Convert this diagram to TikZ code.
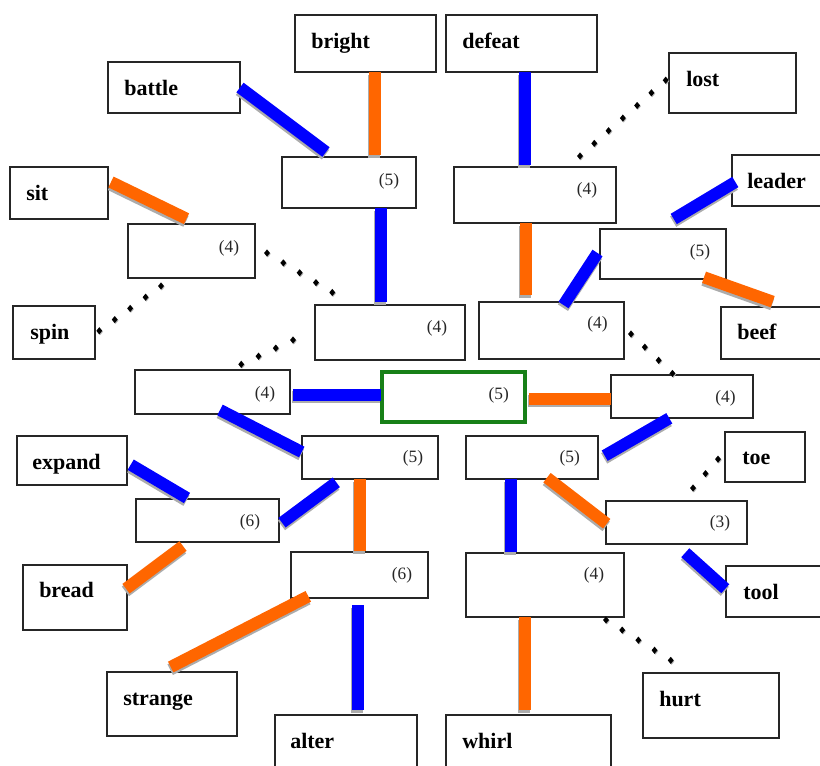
\documentclass[tikz,border=0pt]{standalone}
\usepackage{fontspec}
\setmainfont{Liberation Serif}
\usetikzlibrary{calc,fit,shadows,decorations.markings}
\definecolor{obar}{RGB}{255,102,0}
\definecolor{bbar}{RGB}{0,0,255}
\definecolor{gbox}{RGB}{24,128,24}
\newcommand\linkit[5]{\draw[#1] ($(#2)+(#3)$) -- ($(#4)+(#5)$);}
\newcommand\dotlink[4]{\path[dotline] ($(#1)+(#2)$) -- ($(#3)+(#4)$);}
\tikzset{
  box/.style={draw=black!85, line width=1pt, fill=white, inner sep=0pt,
    drop shadow={shadow xshift=0.8pt, shadow yshift=-0.8pt, fill=gray!50, opacity=1}},
  centerbox/.style={draw=gbox, line width=2.4pt, fill=white, inner sep=0pt},
  word/.style={font=\bfseries\fontsize{16.5}{18}\selectfont, inner sep=0pt, text=black},
  num/.style={font=\fontsize{13}{15}\selectfont, inner sep=0pt, text=black!85},
  barbase/.style={line width=9pt, preaction={draw=gray!65, line width=9pt, transform canvas={xshift=-0.4pt, yshift=-2pt}}},
  obar/.style={barbase, draw=obar},
  bbar/.style={barbase, draw=bbar},
  dotline/.style={postaction={decorate}, decoration={markings,
    mark=between positions 0 and 1 step 14.3pt with {\pgftransformresetnontranslations
      \fill[gray!60] (0.6pt,2.1pt) -- (2.8pt,-0.6pt) -- (0.6pt,-3.3pt) -- (-1.6pt,-0.6pt) -- cycle;
      \fill[black] (0,2.7pt) -- (2.2pt,0) -- (0,-2.7pt) -- (-2.2pt,0) -- cycle;}}}
}
\begin{document}
\begin{tikzpicture}[x=0.75pt, y=-0.75pt]
\fill[white] (0,0) rectangle (820,765);
\useasboundingbox (0,0) rectangle (820,765);
% word boxes
\node[box, fit={(295,15) (436,72)}] (bright) {};
\node[box, fit={(446,15) (597,72)}] (defeat) {};
\node[box, fit={(108,62) (240,113)}] (battle) {};
\node[box, fit={(669,53) (796,113)}] (lost) {};
\node[box, fit={(732,155) (830,206)}] (leader) {};
\node[box, fit={(10,167) (108,219)}] (sit) {};
\node[box, fit={(13,306) (95,359)}] (spin) {};
\node[box, fit={(721,307) (830,359)}] (beef) {};
\node[box, fit={(17,436) (127,485)}] (expand) {};
\node[box, fit={(23,565) (127,630)}] (bread) {};
\node[box, fit={(107,672) (237,736)}] (strange) {};
\node[box, fit={(275,715) (417,780)}] (alter) {};
\node[box, fit={(446,715) (611,780)}] (whirl) {};
\node[box, fit={(643,673) (779,738)}] (hurt) {};
\node[box, fit={(725,432) (805,482)}] (toe) {};
\node[box, fit={(726,566) (830,617)}] (tool) {};
% number boxes
\node[box, fit={(282,157) (416,208)}] (A) {};
\node[box, fit={(454,167) (616,223)}] (B) {};
\node[box, fit={(128,224) (255,278)}] (C) {};
\node[box, fit={(600,229) (726,279)}] (D) {};
\node[box, fit={(315,305) (465,360)}] (E) {};
\node[box, fit={(479,302) (624,359)}] (F) {};
\node[box, fit={(135,370) (290,414)}] (G) {};
\node[centerbox, fit={(382,372) (525,422)}] (Z) {};
\node[box, fit={(611,375) (753,418)}] (H) {};
\node[box, fit={(302,436) (438,479)}] (I) {};
\node[box, fit={(466,436) (598,479)}] (J) {};
\node[box, fit={(136,499) (279,542)}] (K) {};
\node[box, fit={(606,501) (747,544)}] (L) {};
\node[box, fit={(291,552) (428,598)}] (M) {};
\node[box, fit={(466,553) (624,617)}] (N) {};
% words
\node[word, anchor=base west] (bright-t) at (311,48) {bright};
\node[word, anchor=base west] (defeat-t) at (462,48) {defeat};
\node[word, anchor=base west] (battle-t) at (124,95) {battle};
\node[word, anchor=base west] (lost-t) at (686,86) {lost};
\node[word, anchor=base west] (leader-t) at (747,188) {leader};
\node[word, anchor=base west] (sit-t) at (26,200) {sit};
\node[word, anchor=base west] (spin-t) at (30,339) {spin};
\node[word, anchor=base west] (beef-t) at (737,339) {beef};
\node[word, anchor=base west] (expand-t) at (32,469) {expand};
\node[word, anchor=base west] (bread-t) at (39,597) {bread};
\node[word, anchor=base west] (strange-t) at (123,705) {strange};
\node[word, anchor=base west] (alter-t) at (290,748) {alter};
\node[word, anchor=base west] (whirl-t) at (462,748) {whirl};
\node[word, anchor=base west] (hurt-t) at (659,706) {hurt};
\node[word, anchor=base west] (toe-t) at (742,464) {toe};
\node[word, anchor=base west] (tool-t) at (743,599) {tool};
% numbers
\node[num] (A-n) at (389,181) {(5)};
\node[num] (B-n) at (587,190.5) {(4)};
\node[num] (C-n) at (229,248) {(4)};
\node[num] (D-n) at (700,252) {(5)};
\node[num] (E-n) at (437,328) {(4)};
\node[num] (F-n) at (597.5,324.7) {(4)};
\node[num] (G-n) at (265,394) {(4)};
\node[num] (Z-n) at (498.7,395.5) {(5)};
\node[num] (H-n) at (725.5,398.7) {(4)};
\node[num] (I-n) at (413,458.7) {(5)};
\node[num] (J-n) at (569.7,458.7) {(5)};
\node[num] (K-n) at (250,522) {(6)};
\node[num] (L-n) at (720,523.8) {(3)};
\node[num] (M-n) at (402,575) {(6)};
\node[num] (N-n) at (594,575.8) {(4)};
% connectors
\linkit{obar}{bright}{9.5,28.5}{A}{26,-27.5}
\linkit{bbar}{battle}{66,0}{A}{-23,-30.5}
\linkit{bbar}{A}{32,25.5}{E}{-9,-30.5}
\linkit{obar}{sit}{52,-11}{C}{-5,-32.3}
\dotlink{C}{75.5,2}{E}{-42,-30.5}
\dotlink{C}{-30.5,35}{spin}{45,-1.5}
\dotlink{E}{-97,7.5}{G}{14.5,-21}
\linkit{bbar}{G}{80.5,2.5}{Z}{-72.5,-2.5}
\linkit{bbar}{defeat}{3,28.5}{B}{-10.5,-30}
\dotlink{B}{45,-39}{lost}{-65.5,-4}
\linkit{obar}{B}{-9.5,28}{F}{-26,-35.5}
\linkit{bbar}{leader}{-45.7,1.5}{D}{10.7,-35}
\linkit{bbar}{D}{-65.5,-1}{F}{12,-25.5}
\linkit{obar}{D}{41,23.3}{beef}{-2.8,-31.3}
\dotlink{F}{79.5,3.5}{H}{-9,-22.5}
\linkit{obar}{Z}{75.5,1.5}{H}{-71,2}
\linkit{bbar}{G}{7.5,18}{I}{-68.3,-5.5}
\linkit{bbar}{I}{-33.7,24.8}{K}{74.5,2.2}
\linkit{obar}{I}{-10.5,21.5}{M}{0,-24}
\linkit{bbar}{expand}{58.7,4.2}{K}{-20.5,-22.5}
\linkit{obar}{K}{-24.5,25.5}{bread}{51,-8.8}
\linkit{obar}{M}{-51.2,21.3}{strange}{-1.3,-37}
\linkit{bbar}{M}{-2,30}{alter}{11.5,-37.5}
\linkit{bbar}{H}{-12.7,21.8}{J}{72.7,-1.8}
\linkit{bbar}{J}{-21,21.5}{N}{-34,-33}
\linkit{obar}{J}{15,20.2}{L}{-69.8,1.2}
\dotlink{L}{16.5,-34.5}{toe}{-46,1}
\linkit{bbar}{L}{8.8,30.2}{tool}{-52.7,-2.8}
\dotlink{N}{61,35}{hurt}{-28,-37.5}
\linkit{obar}{N}{-20.5,32}{whirl}{-4,-37.5}
\end{tikzpicture}
\end{document}
